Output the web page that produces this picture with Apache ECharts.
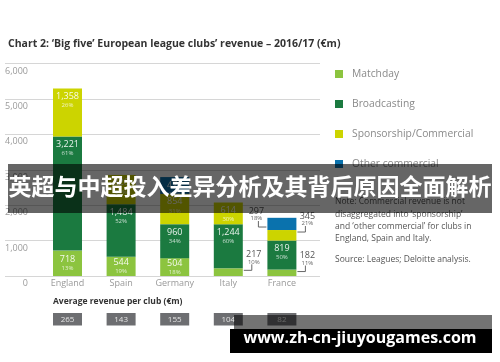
<!DOCTYPE html>
<html>
<head>
<meta charset="utf-8">
<script src="https://cdn.jsdelivr.net/npm/echarts@6/dist/echarts.min.js"></script>
<style>
html,body{margin:0;padding:0;background:#fff;}
#chart{width:500px;height:362px;}
</style>
</head>
<body>
<div id="chart"></div>
<script>
// ---- data ----
const categories = ['England', 'Spain', 'Germany', 'Italy', 'France'];
const seriesNames = ['Matchday', 'Broadcasting', 'Sponsorship/Commercial', 'Other commercial'];
const matchday = [718, 544, 504, 217, 182];
const matchdayPct = ['13%', '19%', '18%', '10%', '11%'];
const broadcasting = [3221, 1484, 960, 1244, 819];
const broadcastingPct = ['61%', '52%', '34%', '60%', '50%'];
const sponsorship = [1358, 826, 854, 614, 297];
const sponsorshipPct = ['26%', '29%', '31%', '30%', '18%'];
const otherCommercial = [null, null, 475, null, 345];
const otherCommercialPct = [null, null, '17%', null, '21%'];
const totals = [5297, 2854, 2793, 2075, 1643];
const avgRevenue = [265, 143, 155, 104, 82];
const yTickLabels = ['0', '1,000', '2,000', '3,000', '4,000', '5,000', '6,000'];
// labels drawn outside the bars (series index, category index, side, which edge of the segment)
const outsideLabels = [
  { series: 0, cat: 3, side: 'right', edge: 'top' },
  { series: 0, cat: 4, side: 'right', edge: 'top' },
  { series: 2, cat: 4, side: 'left', edge: 'top' },
  { series: 3, cat: 4, side: 'right', edge: 'bottom' }
];

const titleText = "Chart 2: \u2018Big five\u2019 European league clubs\u2019 revenue \u2013 2016/17 (\u20acm)";
const noteLines = ['Note: Commercial revenue is not', 'disaggregated into \u2018sponsorship\u2019',
  'and \u2018other commercial\u2019 for clubs in', 'England, Spain and Italy.'];
const sourceText = 'Source: Leagues; Deloitte analysis.';
const avgTitle = 'Average revenue per club (\u20acm)';
const bannerText = '英超与中超投入差异分析及其背后原因全面解析';
const watermarkText = 'www.zh-cn-jiuyougames.com';

// ---- styling ----
const FONT = '"Open Sans", "Noto Sans", sans-serif';
const colors = ['#8cc43f', '#1b7a40', '#ccd400', '#0a72ad'];
const BAR_W = 29;
const values = [matchday, broadcasting, sponsorship, otherCommercial];
const pcts = [matchdayPct, broadcastingPct, sponsorshipPct, otherCommercialPct];

// cumulative stack levels
const levels = values.map((arr, s) => arr.map((v, i) => {
  let sum = 0;
  for (let k = 0; k <= s; k++) sum += (values[k][i] || 0);
  return sum;
}));

const fmt = v => v.toLocaleString('en-US');
const isOutside = (s, i) => outsideLabels.some(a => a.series === s && a.cat === i);

const barSeries = values.map((arr, s) => ({
  name: seriesNames[s],
  type: 'bar',
  stack: 'rev',
  xAxisIndex: 1,
  yAxisIndex: 1,
  barWidth: BAR_W,
  itemStyle: { color: colors[s] },
  label: {
    show: true,
    position: s === 0 ? 'inside' : 'insideTop',
    distance: 3,
    formatter: p => '{v|' + fmt(p.value) + '}\n{p|' + pcts[s][p.dataIndex] + '}',
    rich: {
      v: { fontSize: 9, lineHeight: 10, color: 'rgba(255,255,255,0.9)', fontFamily: FONT },
      p: { fontSize: 6, lineHeight: 8, color: 'rgba(255,255,255,0.75)', fontFamily: FONT }
    }
  },
  data: arr.map((v, i) => ({ value: v, label: { show: v != null && !isOutside(s, i) } }))
}));

const annotationSeries = {
  type: 'custom',
  xAxisIndex: 1,
  yAxisIndex: 1,
  clip: false,
  silent: true,
  data: outsideLabels.map(a => [a.cat, a.edge === 'top' ? levels[a.series][a.cat] : levels[a.series][a.cat] - values[a.series][a.cat]]),
  renderItem: (params, api) => {
    const a = outsideLabels[params.dataIndex];
    const pt = api.coord([api.value(0), api.value(1)]);
    const dir = a.side === 'right' ? 1 : -1;
    const edgeX = pt[0] + dir * BAR_W / 2;
    const by = pt[1] + (a.side === 'right' ? 2 : -3);
    const tx = edgeX + dir * 11;
    return {
      type: 'group',
      children: [
        { type: 'polyline', shape: { points: [[edgeX + dir, by], [edgeX + dir * 9, by], [edgeX + dir * 9, by - 6]] },
          style: { stroke: '#666', lineWidth: 1, fill: null } },
        { type: 'text', x: tx, y: by - 16,
          style: { text: fmt(values[a.series][a.cat]), align: 'center', verticalAlign: 'middle', fontSize: 9, fill: '#555', fontFamily: FONT } },
        { type: 'text', x: tx, y: by - 8.5,
          style: { text: pcts[a.series][a.cat], align: 'center', verticalAlign: 'middle', fontSize: 6, fill: '#666', fontFamily: FONT } }
      ]
    };
  }
};

const avgSeries = {
  type: 'custom',
  xAxisIndex: 1,
  yAxisIndex: 1,
  clip: false,
  silent: true,
  data: avgRevenue.map((v, i) => [i, 0, v]),
  renderItem: (params, api) => {
    const cx = api.coord([api.value(0), 0])[0];
    return {
      type: 'group',
      children: [
        { type: 'rect', shape: { x: cx - BAR_W / 2, y: 313, width: BAR_W, height: 12.5 }, style: { fill: '#6d6e71' } },
        { type: 'text', x: cx, y: 319.5,
          style: { text: String(api.value(2)), align: 'center', verticalAlign: 'middle', fontSize: 8, fill: '#e4e4e4', fontFamily: FONT } }
      ]
    };
  }
};

const totalSeries = {
  type: 'scatter',
  xAxisIndex: 1,
  yAxisIndex: 1,
  symbolSize: 1,
  itemStyle: { opacity: 0 },
  silent: true,
  label: {
    show: true, position: 'top', distance: 3,
    formatter: p => fmt(p.value[1]),
    fontSize: 10, fontWeight: 'bold', color: '#333', fontFamily: FONT
  },
  data: totals.map((v, i) => [i, v])
};

const chart = echarts.init(document.getElementById('chart'));
chart.setOption({
  animation: false,
  textStyle: { fontFamily: FONT },
  title: {
    text: titleText, left: 8, top: 39, padding: 0,
    textStyle: { fontSize: 10.5, fontWeight: 'bold', color: '#333', fontFamily: FONT }
  },
  legend: {
    data: seriesNames,
    orient: 'vertical',
    left: 335, top: 67, padding: 0,
    icon: 'rect', itemWidth: 8, itemHeight: 8, itemGap: 16,
    selectedMode: false,
    textStyle: { fontSize: 10.3, color: '#8a8a8a', lineHeight: 14, padding: [0, 0, 0, 4], fontFamily: FONT }
  },
  grid: [
    { left: 5, width: 315, top: 63.5, height: 212.5 },
    { left: 40.7, width: 268, top: 63.5, height: 212.5 }
  ],
  xAxis: [
    { gridIndex: 0, type: 'category', data: categories, show: false },
    { gridIndex: 1, type: 'category', data: categories,
      axisLine: { show: false }, axisTick: { show: false },
      axisLabel: { color: '#999', fontSize: 9, margin: 3, fontFamily: FONT } }
  ],
  yAxis: [
    { gridIndex: 0, type: 'value', min: 0, max: 6000, interval: 1000,
      axisLine: { show: false }, axisTick: { show: false },
      splitLine: { lineStyle: { color: '#d6d6d6', width: 1 } },
      axisLabel: { inside: true, align: 'right', margin: 23, verticalAlign: 'top', padding: [3, 0, 0, 0],
        showMinLabel: true, showMaxLabel: true,
        color: '#9a9a9a', fontSize: 9, fontFamily: FONT,
        formatter: v => yTickLabels[Math.round(v / 1000)] } },
    { gridIndex: 1, type: 'value', min: 0, max: 6000, interval: 1000, show: false }
  ],
  series: [...barSeries, annotationSeries, avgSeries, totalSeries],
  graphic: [
    { type: 'text', left: 53, top: 297, z: 10,
      style: { text: avgTitle, fontSize: 8.5, fontWeight: 'bold', fill: '#333', fontFamily: FONT } },
    { type: 'text', left: 335, top: 195.5, z: 10,
      style: { text: noteLines.join('\n'), fontSize: 8.5, lineHeight: 12.4, fill: '#555', fontFamily: FONT } },
    { type: 'text', left: 335, top: 255, z: 10,
      style: { text: sourceText, fontSize: 8.5, fill: '#555', fontFamily: FONT } },
    // overlay banner
    { type: 'rect', z: 100, shape: { x: 8, y: 164, width: 484, height: 49 }, style: { fill: 'rgba(0,0,0,0.6)' } },
    { type: 'text', z: 101, left: 'center', top: 175,
      style: { text: bannerText, fill: '#fff',
        fontSize: 23, fontWeight: 'bold', fontFamily: '"Noto Sans CJK SC", sans-serif' } },
    // watermark
    { type: 'rect', z: 100, shape: { x: 234, y: 315, width: 258, height: 14 }, style: { fill: 'rgba(0,0,0,0.55)' } },
    { type: 'rect', z: 100, shape: { x: 230, y: 329, width: 262, height: 24 }, style: { fill: '#000' } },
    { type: 'text', z: 101, x: 360, y: 338.5,
      style: { text: watermarkText, align: 'center', verticalAlign: 'middle', fill: '#fff',
        fontSize: 16, fontWeight: 'bold', fontFamily: '"Open Sans", "Noto Sans", sans-serif' } }
  ]
});
</script>
</body>
</html>
